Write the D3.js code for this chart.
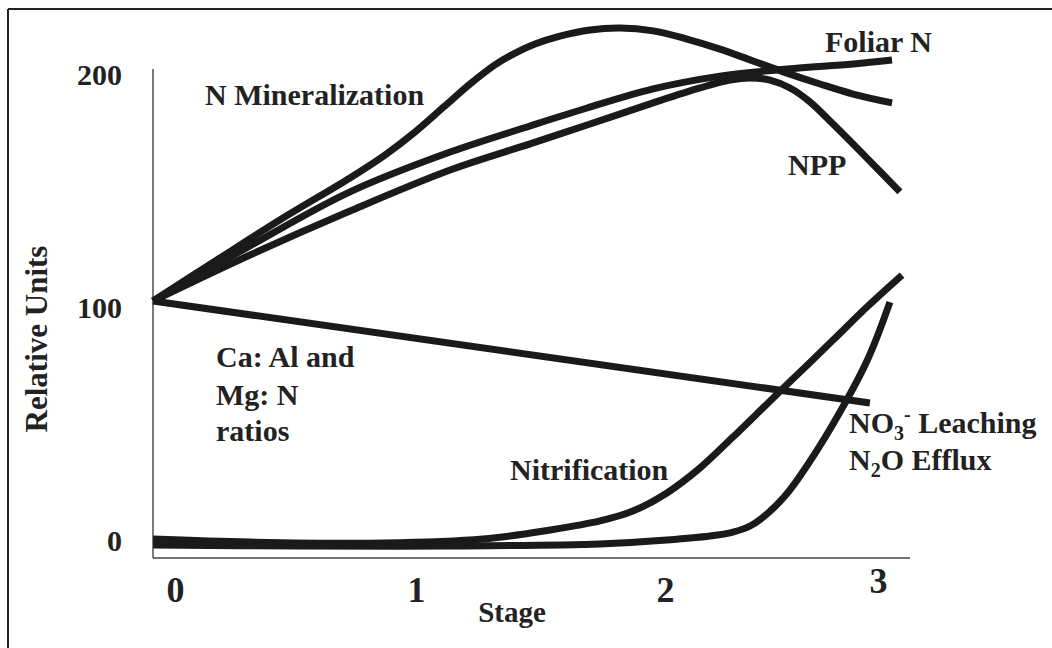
<!DOCTYPE html>
<html>
<head>
<meta charset="utf-8">
<script src="https://cdn.jsdelivr.net/npm/d3@7"></script>
<style>
  html, body { margin: 0; padding: 0; background: #fff; }
  svg { display: block; }
  text { font-family: "Liberation Serif", "Times New Roman", serif; font-weight: bold; fill: #222; }
</style>
</head>
<body>
<svg id="chart" width="1052" height="648"></svg>
<script>
// ---- data (stage, relative units) ----
const xTicks = [0, 1, 2, 3];
const yTicks = [0, 100, 200];

const nMineralization = [[-0.091,102.6],[0.174,120.2],[0.448,138.2],[0.726,155.4],[0.871,165.2],[0.996,175.1],[1.116,186.3],[1.217,195.7],[1.317,203.9],[1.398,209.0],[1.478,212.9],[1.578,216.3],[1.699,218.9],[1.819,219.7],[1.952,218.5],[2.103,215.0],[2.258,210.7],[2.413,205.6],[2.573,200.4],[2.728,195.7],[2.883,191.4],[3.066,187.6]];
const foliarN = [[-0.091,102.6],[0.311,126.2],[0.726,149.4],[1.137,166.5],[1.458,177.7],[1.687,185.4],[1.952,193.6],[2.258,199.1],[2.573,202.1],[2.883,204.3],[3.066,206.0]];
const npp = [[-0.091,102.6],[0.311,122.3],[0.726,141.2],[1.137,158.8],[1.458,170.0],[1.687,178.1],[1.952,187.6],[2.164,194.0],[2.305,197.4],[2.399,198.3],[2.493,197.4],[2.587,194.0],[2.681,188.0],[2.789,178.5],[2.948,163.9],[3.103,149.4]];
const caAlMgN = [[-0.091,102.6],[2.962,58.8]];
const nitrification = [[-0.091,0.4],[0.311,-0.9],[0.863,-1.3],[1.269,0.4],[1.538,4.3],[1.739,8.2],[1.871,12.4],[2.009,20.2],[2.164,30.9],[2.319,44.2],[2.479,58.4],[2.634,72.1],[2.789,85.8],[2.948,100.0],[3.113,113.7]];
const leaching = [[-0.091,-2.1],[0.519,-2.6],[1.137,-2.6],[1.739,-1.7],[2.009,0],[2.211,1.7],[2.319,3.4],[2.399,6.0],[2.479,11.2],[2.563,18.9],[2.634,27.5],[2.789,49.8],[2.948,76.8],[3.056,102.1]];

// ---- layout ----
const svg = d3.select("#chart");
const axisLeftX = 153, axisRightX = 910, axisTopY = 69, axisBottomY = 558;

const x = d3.scaleLinear().domain([0, 1, 2, 3]).range([175, 416, 665, 878]);
const y = d3.scaleLinear().domain([0, 200]).range([540, 74]);

// frame (top and left edges visible)
svg.append("line").attr("x1", 8).attr("y1", 9).attr("x2", 1052).attr("y2", 9)
  .attr("stroke", "#222").attr("stroke-width", 2);
svg.append("line").attr("x1", 8).attr("y1", 9).attr("x2", 8).attr("y2", 648)
  .attr("stroke", "#222").attr("stroke-width", 2);

// axis lines
svg.append("line").attr("x1", axisLeftX).attr("y1", axisTopY).attr("x2", axisLeftX).attr("y2", axisBottomY)
  .attr("stroke", "#444").attr("stroke-width", 1.4);
svg.append("line").attr("x1", axisLeftX).attr("y1", axisBottomY).attr("x2", axisRightX).attr("y2", axisBottomY)
  .attr("stroke", "#444").attr("stroke-width", 1.4);

// y axis tick labels
const gy = svg.append("g").attr("transform", `translate(${axisLeftX},0)`)
  .call(d3.axisLeft(y).tickValues(yTicks).tickSize(0).tickFormat(d3.format("d")));
gy.select(".domain").remove();
gy.selectAll("text").attr("x", -31).attr("dy", "0.35em")
  .style("font-family", "'Liberation Serif', serif").style("font-weight", "bold")
  .style("font-size", "30px").attr("fill", "#222");

// x axis tick labels
const gx = svg.append("g").attr("transform", `translate(0,${axisBottomY})`)
  .call(d3.axisBottom(x).tickValues(xTicks).tickSize(0).tickFormat(d3.format("d")));
gx.select(".domain").remove();
gx.selectAll("text").attr("y", d => d === 3 ? 35 : 44).attr("dy", 0)
  .style("font-family", "'Liberation Serif', serif").style("font-weight", "bold")
  .style("font-size", "36px").attr("fill", "#222");

// axis titles
svg.append("text").attr("x", 512).attr("y", 622).attr("text-anchor", "middle")
  .style("font-size", "29px").text("Stage");
svg.append("text").attr("transform", "translate(47,339) rotate(-90)").attr("text-anchor", "middle")
  .style("font-size", "31px").text("Relative Units");

// curves
const smooth = d3.line().x(d => x(d[0])).y(d => y(d[1])).curve(d3.curveCatmullRom.alpha(0.5));
const straight = d3.line().x(d => x(d[0])).y(d => y(d[1]));
const curves = [
  { data: nMineralization, gen: smooth },
  { data: foliarN, gen: smooth },
  { data: npp, gen: smooth },
  { data: caAlMgN, gen: straight },
  { data: nitrification, gen: smooth },
  { data: leaching, gen: smooth }
];
svg.append("g").selectAll("path").data(curves).join("path")
  .attr("d", c => c.gen(c.data))
  .attr("fill", "none").attr("stroke", "#1a1a1a").attr("stroke-width", 7)
  .attr("stroke-linejoin", "round").attr("stroke-linecap", "butt");

// labels
const fs = "30px";
function label(px, py, str) {
  return svg.append("text").attr("x", px).attr("y", py).style("font-size", fs).text(str);
}
label(205, 105, "N Mineralization");
label(825, 52, "Foliar N");
label(788, 175, "NPP");
label(216, 367, "Ca: Al and");
label(216, 405, "Mg: N");
label(216, 441, "ratios");
label(510, 480, "Nitrification");

const no3 = svg.append("text").attr("x", 849).attr("y", 433).style("font-size", fs);
no3.append("tspan").text("NO");
no3.append("tspan").attr("dy", 7).style("font-size", "20px").text("3");
no3.append("tspan").attr("dy", -19).style("font-size", "20px").text("-");
no3.append("tspan").attr("dy", 12).text(" Leaching");

const n2o = svg.append("text").attr("x", 849).attr("y", 470).style("font-size", fs);
n2o.append("tspan").text("N");
n2o.append("tspan").attr("dy", 7).style("font-size", "20px").text("2");
n2o.append("tspan").attr("dy", -7).text("O Efflux");
</script>
</body>
</html>
